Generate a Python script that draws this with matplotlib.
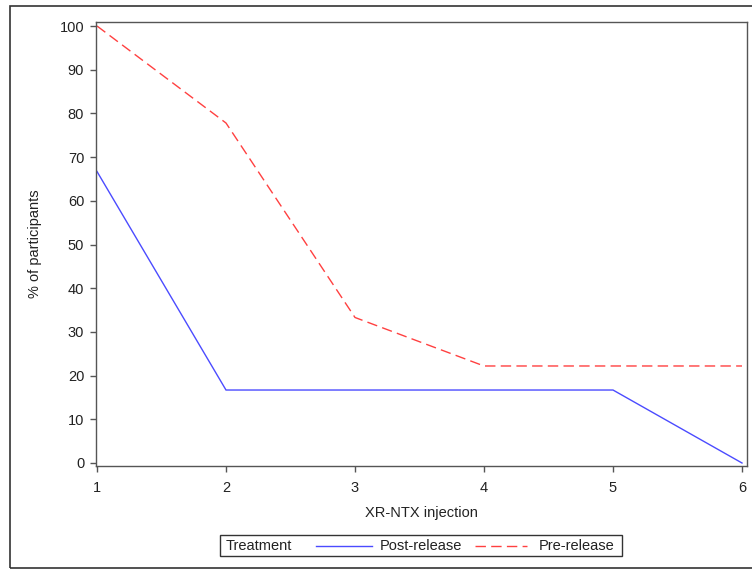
import matplotlib
matplotlib.use("Agg")
import matplotlib.pyplot as plt
from matplotlib.lines import Line2D
from matplotlib.patches import Rectangle

plt.rcParams['font.family'] = ['Liberation Sans', 'DejaVu Sans']

injections = [1, 2, 3, 4, 5, 6]
post_release = [66.7, 16.7, 16.7, 16.7, 16.7, 0.0]
pre_release = [100.0, 77.8, 33.3, 22.2, 22.2, 22.2]
y_ticks = [0, 10, 20, 30, 40, 50, 60, 70, 80, 90, 100]

W, H = 752, 570
fig = plt.figure(figsize=(W / 100, H / 100), dpi=100)

# axes in pixel coords: left 96, right 747, top 22, bottom 466
ax = fig.add_axes([96 / W, 1 - 466 / H, (747 - 96) / W, (466 - 22) / H])

frame_col = '#555555'
txt_col = '#222222'
blue = '#4B4BFF'
red = '#FF4040'
fs = 10.5

ax.plot(injections, post_release, color=blue, lw=1.0, solid_joinstyle='miter')
ax.plot(injections, pre_release, color=red, lw=1.0, dashes=(7.5, 3.8))

ax.set_xlim(1 - 1 / 129, 6 + 5 / 129)
ax.set_ylim(-3 / 4.37, 100 + 4 / 4.37)
ax.set_xticks(injections)
ax.set_yticks(y_ticks)
ax.tick_params(direction='out', length=4.5, width=1.0, color=frame_col,
               labelsize=fs, labelcolor=txt_col)
ax.tick_params(axis='y', pad=4)
ax.tick_params(axis='x', pad=6)
for s in ax.spines.values():
    s.set_color(frame_col)
    s.set_linewidth(1.0)

ax.set_xlabel('XR-NTX injection', fontsize=fs, color=txt_col, labelpad=8)
ax.set_ylabel('% of participants', fontsize=fs, color=txt_col, labelpad=13)

# outer border (right edge falls just outside the image)
fig.add_artist(Rectangle((10 / W, 1 - 568 / H), (760 - 10) / W, (568 - 6) / H,
                         transform=fig.transFigure, fill=False,
                         edgecolor='#333333', lw=1.2))

# legend box
def fx(px):
    return px / W

def fy(py):
    return 1 - py / H

fig.add_artist(Rectangle((fx(220), fy(556)), fx(622) - fx(220), fy(535) - fy(556),
                         transform=fig.transFigure, fill=False,
                         edgecolor='#333333', lw=1.0))
ly = fy(546)
fig.text(fx(226), ly, 'Treatment', fontsize=fs, va='center', ha='left', color=txt_col)
fig.add_artist(Line2D([fx(316), fx(372)], [ly, ly], transform=fig.transFigure,
                      color=blue, lw=1.0))
fig.text(fx(380), ly, 'Post-release', fontsize=fs, va='center', ha='left', color=txt_col)
fig.add_artist(Line2D([fx(475), fx(527)], [ly, ly], transform=fig.transFigure,
                      color=red, lw=1.0, dashes=(7.5, 3.8)))
fig.text(fx(539), ly, 'Pre-release', fontsize=fs, va='center', ha='left', color=txt_col)

fig.savefig('out.png', dpi=100)
